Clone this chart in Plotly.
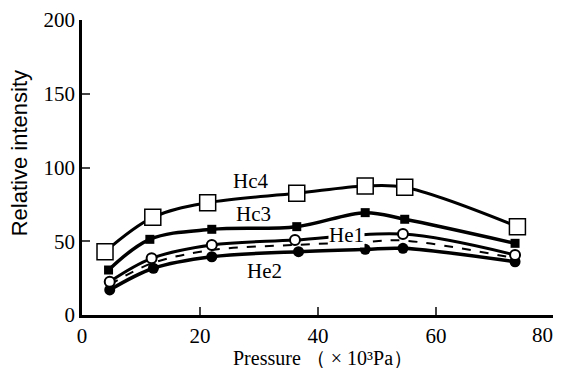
import plotly.graph_objects as go

# Data
he4_x = [3.9, 12.0, 21.3, 36.4, 48.0, 54.7, 73.8]
he4_y = [42.9, 66.2, 76.1, 82.5, 87.5, 86.6, 59.9]

he3_x = [4.5, 11.5, 22.0, 36.4, 48.0, 54.7, 73.4]
he3_y = [30.5, 51.3, 58.1, 59.9, 69.4, 64.9, 48.6]

he1_x = [4.7, 11.8, 22.0, 36.1, 54.4, 73.4]
he1_y = [22.6, 38.4, 47.5, 50.8, 54.9, 40.7]

dash_x = [4.7, 11.8, 22.0, 36.1, 48.0, 54.4, 73.4]
dash_y = [20.5, 35.0, 44.0, 47.5, 49.5, 50.5, 38.5]

he2_x = [4.7, 12.1, 22.0, 36.7, 48.0, 54.4, 73.4]
he2_y = [17.0, 31.7, 39.5, 42.9, 44.5, 45.2, 36.1]

labels = ["Hc4", "Hc3", "He1", "He2"]
label_x = [28.5, 29.0, 44.9, 31.0]
label_y = [90.8, 68.5, 54.2, 29.5]

x_ticks = [0, 20, 40, 60, 80]
x_ticktext = ["0", "20", "40", "60", ""]   # last label drawn as an annotation so it stays inside the page
last_x_label = "80"
y_ticks = [0, 50, 100, 150, 200]

x_title = "Pressure （ × 10³Pa）"
y_title = "Relative intensity"

SERIF = "Liberation Serif, Times New Roman, serif"
SANS = "Liberation Sans, Arial, sans-serif"
TICK_SIZE = 21

fig = go.Figure()

fig.add_trace(go.Scatter(x=dash_x, y=dash_y, mode="lines", line=dict(color="black", width=2, dash="dash", shape="spline"), showlegend=False))
fig.add_trace(go.Scatter(x=he2_x, y=he2_y, mode="lines+markers", line=dict(color="black", width=3.5, shape="spline"),
                         marker=dict(symbol="circle", size=11, color="black"), showlegend=False))
fig.add_trace(go.Scatter(x=he1_x, y=he1_y, mode="lines+markers", line=dict(color="black", width=3, shape="spline"),
                         marker=dict(symbol="circle", size=10, color="white", line=dict(color="black", width=2)), showlegend=False))
fig.add_trace(go.Scatter(x=he3_x, y=he3_y, mode="lines+markers", line=dict(color="black", width=3.5, shape="spline"),
                         marker=dict(symbol="square", size=9, color="black"), showlegend=False))
fig.add_trace(go.Scatter(x=he4_x, y=he4_y, mode="lines+markers", line=dict(color="black", width=3, shape="spline"),
                         marker=dict(symbol="square", size=16, color="white", line=dict(color="black", width=1.5)), showlegend=False))

for t, lx, ly in zip(labels, label_x, label_y):
    fig.add_annotation(x=lx, y=ly, text=t, showarrow=False,
                       font=dict(family=SERIF, size=21, color="black"),
                       bgcolor="white" if t == "He1" else "rgba(0,0,0,0)", borderpad=0)

fig.add_annotation(x=x_ticks[-1], xref="x", y=0, yref="paper", yanchor="top", xanchor="right", xshift=1, yshift=-6,
                   text=last_x_label, showarrow=False, font=dict(family=SERIF, size=TICK_SIZE, color="black"))

# Axis titles as paper-positioned annotations
fig.add_annotation(xref="paper", yref="paper", x=0.51, y=-0.1, yanchor="top", text=x_title, showarrow=False,
                   font=dict(family=SERIF, size=20, color="black"))
fig.add_annotation(xref="paper", yref="paper", x=-0.133, y=0.549, xanchor="center", yanchor="middle", textangle=-90,
                   text=y_title, showarrow=False,
                   font=dict(family=SANS, size=22, color="black"))

# The page body has an 8px default margin; the figure is sized so the plot area
# lands where the reference's does.
fig.update_layout(
    width=553, height=360,
    margin=dict(l=74, r=7, t=12, b=53, autoexpand=False),
    paper_bgcolor="white", plot_bgcolor="white",
    font=dict(family=SERIF, color="black"),
)
fig.update_xaxes(range=[0, 80], tickvals=x_ticks, ticktext=x_ticktext, ticks="inside", ticklen=8, tickwidth=2,
                 showline=True, linecolor="black", linewidth=2.5, showgrid=False, zeroline=False,
                 tickfont=dict(family=SERIF, size=TICK_SIZE), ticklabeloverflow="allow", automargin=False)
fig.update_yaxes(range=[0, 200], tickvals=y_ticks, ticks="inside", ticklen=8, tickwidth=2,
                 showline=True, linecolor="black", linewidth=2.5, showgrid=False, zeroline=False,
                 tickfont=dict(family=SERIF, size=TICK_SIZE), ticklabeloverflow="allow", automargin=False)

fig.write_html("out.html")
